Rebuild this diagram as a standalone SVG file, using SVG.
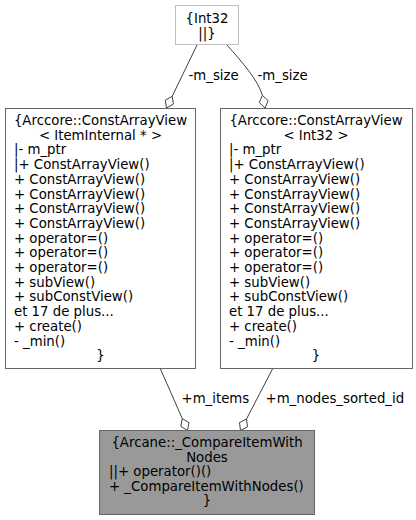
<svg xmlns="http://www.w3.org/2000/svg" width="416" height="520" viewBox="0 0 416 520">
<style>
text{font-family:"DejaVu Sans","Liberation Sans",sans-serif;font-size:13.3px;fill:#000}
.c{text-anchor:middle}
.box{fill:#fff;stroke:#666;stroke-width:1}
.edge{fill:none;stroke:#404040;stroke-width:1}
.dia{fill:#fff;stroke:#404040;stroke-width:1}
</style>
<rect width="416" height="520" fill="#fff"/>
<g id="connectors">
  <path class="edge" d="M197,45 L172.2,96.3"/>
  <polygon class="dia" points="166.5,108 173.4,104.1 172.2,96.3 165.3,100.2"/>
  <text x="188.5" y="80">-m_size</text>
  <path class="edge" d="M227,45 C242,62 258,80 262.4,95.3"/>
  <polygon class="dia" points="265,108 268.1,100.7 262.4,95.3 259.3,102.5"/>
  <text x="257.5" y="80">-m_size</text>
  <path class="edge" d="M160,368 L182.3,418.6"/>
  <polygon class="dia" points="187.5,430.5 189,422.7 182.3,418.6 180.8,426.4"/>
  <text x="181.5" y="403">+m_items</text>
  <path class="edge" d="M273,368 L246.5,419"/>
  <polygon class="dia" points="240.5,430.5 247.5,426.8 246.5,419 239.5,422.6"/>
  <text x="265.5" y="403">+m_nodes_sorted_id</text>
</g>
<g id="node_int32">
  <rect x="175.5" y="5.5" width="63" height="39" fill="#fff" stroke="#bfbfbf"/>
  <text class="c" x="207" y="23">{Int32</text>
  <text class="c" x="207" y="37.5">||}</text>
</g>
<g id="node_constarrayview_item">
  <rect class="box" x="5.5" y="108.5" width="190" height="260"/>
  <text class="c" x="100.5" y="125">{Arccore::ConstArrayView</text>
  <text class="c" x="100.5" y="139.7">&lt; ItemInternal * &gt;</text>
  <text x="14" y="154.4">|- m_ptr</text>
  <text x="14" y="169.1">|+ ConstArrayView()</text>
  <text x="14" y="183.8">+ ConstArrayView()</text>
  <text x="14" y="198.5">+ ConstArrayView()</text>
  <text x="14" y="213.2">+ ConstArrayView()</text>
  <text x="14" y="227.9">+ ConstArrayView()</text>
  <text x="14" y="242.6">+ operator=()</text>
  <text x="14" y="257.3">+ operator=()</text>
  <text x="14" y="272">+ operator=()</text>
  <text x="14" y="286.7">+ subView()</text>
  <text x="14" y="301.4">+ subConstView()</text>
  <text x="14" y="316.1">et 17 de plus...</text>
  <text x="14" y="330.8">+ create()</text>
  <text x="14" y="345.5">- _min()</text>
  <text class="c" x="100.5" y="360.2">}</text>
</g>
<g id="node_constarrayview_int32">
  <rect class="box" x="220.5" y="108.5" width="192" height="260"/>
  <text class="c" x="316" y="125">{Arccore::ConstArrayView</text>
  <text class="c" x="316" y="139.7">&lt; Int32 &gt;</text>
  <text x="229" y="154.4">|- m_ptr</text>
  <text x="229" y="169.1">|+ ConstArrayView()</text>
  <text x="229" y="183.8">+ ConstArrayView()</text>
  <text x="229" y="198.5">+ ConstArrayView()</text>
  <text x="229" y="213.2">+ ConstArrayView()</text>
  <text x="229" y="227.9">+ ConstArrayView()</text>
  <text x="229" y="242.6">+ operator=()</text>
  <text x="229" y="257.3">+ operator=()</text>
  <text x="229" y="272">+ operator=()</text>
  <text x="229" y="286.7">+ subView()</text>
  <text x="229" y="301.4">+ subConstView()</text>
  <text x="229" y="316.1">et 17 de plus...</text>
  <text x="229" y="330.8">+ create()</text>
  <text x="229" y="345.5">- _min()</text>
  <text class="c" x="316" y="360.2">}</text>
</g>
<g id="node_compareitemwithnodes">
  <rect x="99.5" y="430.5" width="215" height="84" fill="#999" stroke="#666"/>
  <text class="c" x="207" y="447">{Arcane::_CompareItemWith</text>
  <text class="c" x="207" y="461.5">Nodes</text>
  <text x="109" y="476">||+ operator()()</text>
  <text x="109" y="490.5">+ _CompareItemWithNodes()</text>
  <text class="c" x="207" y="505">}</text>
</g>
</svg>
